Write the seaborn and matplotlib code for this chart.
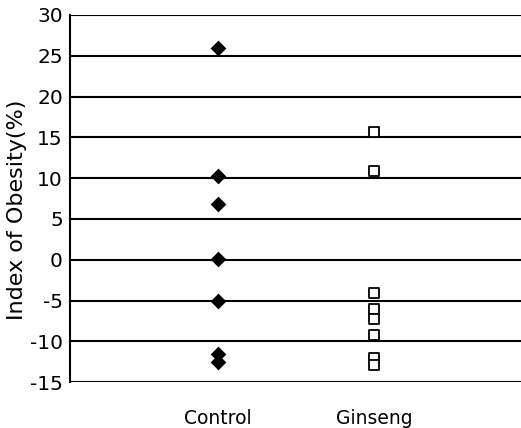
import pandas as pd
import matplotlib.pyplot as plt
import seaborn as sns

groups = ['Control', 'Ginseng']
control_vals = [26.0, 10.3, 6.8, 0.1, -5.0, -11.6, -12.5]
ginseng_vals = [15.6, 10.9, -4.1, -6.0, -7.2, -9.2, -12.0, -12.9]
y_ticks = [-15, -10, -5, 0, 5, 10, 15, 20, 25, 30]

df = pd.DataFrame({
    'group': ['Control'] * len(control_vals) + ['Ginseng'] * len(ginseng_vals),
    'value': control_vals + ginseng_vals,
})

sns.set_style('white')
plt.rcParams['font.family'] = ['DejaVu Sans']

fig = plt.figure(figsize=(5.21, 4.28), dpi=100)
ax = fig.add_axes([0.134, 0.107, 0.866, 0.858])

# horizontal lines at every tick
for t in y_ticks:
    ax.axhline(t, color='black', lw=1.5, zorder=1)

sns.stripplot(data=df[df['group'] == 'Control'], x='group', y='value', order=groups,
              jitter=False, marker='D', color='black', size=8, ax=ax, zorder=3)
sns.stripplot(data=df[df['group'] == 'Ginseng'], x='group', y='value', order=groups,
              jitter=False, marker='s', color='white', edgecolor='black', linewidth=1.3,
              size=7.5, ax=ax, zorder=3)

ax.set_xlim(-0.95, 1.94)
ax.set_ylim(-15, 30)
ax.set_yticks(y_ticks)
ax.set_yticklabels([str(t) for t in y_ticks], fontsize=14.5)
ax.set_xticks([0, 1])
ax.set_xticklabels(groups, fontsize=13.5)
ax.tick_params(axis='x', length=0, pad=19, labelcolor='black')
ax.tick_params(axis='y', length=3, width=1.5, direction='out', pad=2,
               color='black', labelcolor='black')
ax.set_xlabel('')
ax.set_ylabel('Index of Obesity(%)', fontsize=16, color='black')
ax.yaxis.set_label_coords(-0.095, 0.469)

for side in ['top', 'right', 'bottom']:
    ax.spines[side].set_visible(False)
ax.spines['left'].set_linewidth(1.5)
ax.spines['left'].set_color('black')

fig.savefig('out.png', dpi=100)
